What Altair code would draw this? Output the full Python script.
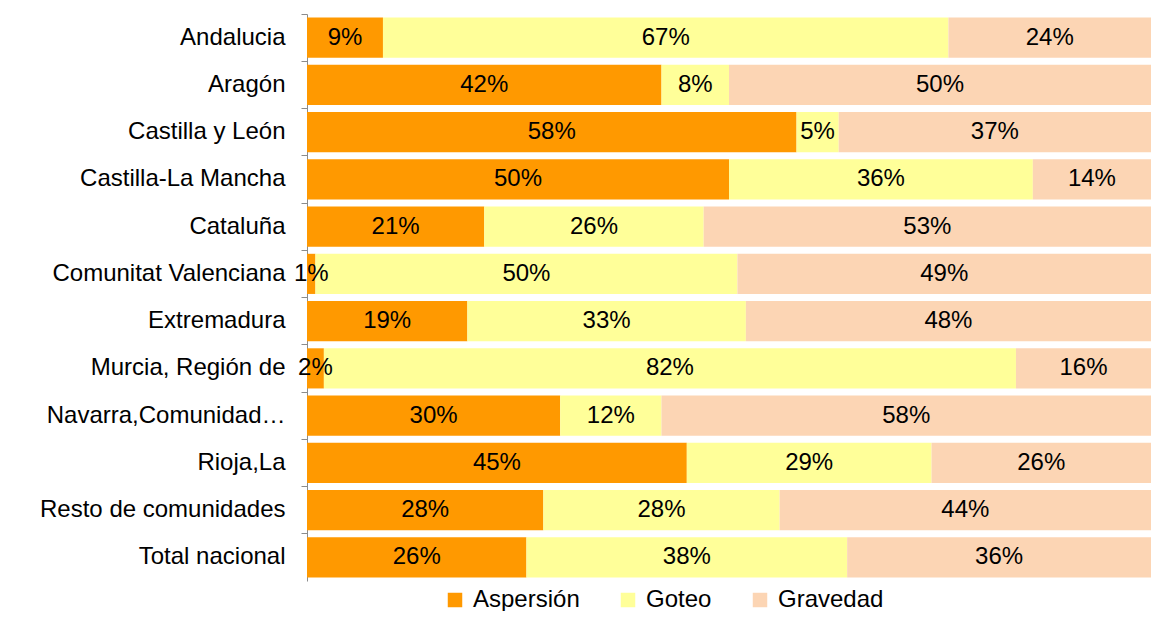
import altair as alt
import pandas as pd

regiones = [
    "Andalucia", "Aragón", "Castilla y León", "Castilla-La Mancha", "Cataluña",
    "Comunitat Valenciana", "Extremadura", "Murcia, Región de", "Navarra,Comunidad…",
    "Rioja,La", "Resto de comunidades", "Total nacional",
]
aspersion = [9, 42, 58, 50, 21, 1, 19, 2, 30, 45, 28, 26]
goteo = [67, 8, 5, 36, 26, 50, 33, 82, 12, 29, 28, 38]
gravedad = [24, 50, 37, 14, 53, 49, 48, 16, 58, 26, 44, 36]

tipos = ["Aspersión", "Goteo", "Gravedad"]
colores = ["#FF9900", "#FFFF99", "#FCD5B4"]

rows = []
for i, r in enumerate(regiones):
    for j, (t, serie) in enumerate(zip(tipos, [aspersion, goteo, gravedad])):
        rows.append({"region": r, "tipo": t, "valor": serie[i], "orden": j})
df = pd.DataFrame(rows)

FONT = "Liberation Sans"

base = alt.Chart(df).transform_stack(
    stack="valor", groupby=["region"], as_=["x0", "x1"],
    sort=[alt.SortField("orden", order="ascending")],
).transform_calculate(
    mid="(datum.x0 + datum.x1) / 2",
    etiqueta="datum.valor + '%'",
)

yenc = alt.Y(
    "region:N", sort=regiones, title=None,
    scale=alt.Scale(paddingInner=0, paddingOuter=0),
    axis=alt.Axis(
        bandPosition=0, domainColor="#8c8c8c", tickColor="#8c8c8c", tickSize=6,
        labelFont=FONT, labelFontSize=24, labelColor="#000000", labelPadding=16,
        labelLimit=0, grid=False,
    ),
)

xscale = alt.Scale(domain=[0, 100], nice=False, zero=True)

bars = base.mark_bar(height=alt.RelativeBandSize(0.85)).encode(
    y=yenc,
    x=alt.X("x0:Q", scale=xscale, axis=None),
    x2="x1:Q",
    color=alt.Color(
        "tipo:N", scale=alt.Scale(domain=tipos, range=colores), title=None,
        legend=alt.Legend(
            orient="none", direction="horizontal", legendX=136, legendY=574,
            symbolType="square", symbolSize=210, symbolStrokeWidth=0,
            labelFont=FONT, labelFontSize=24, labelColor="#000000",
            columnPadding=36, labelOffset=6,
        ),
    ),
    order=alt.Order("orden:Q"),
)

texts = base.mark_text(font=FONT, fontSize=24, color="#000000", baseline="middle", align="center").encode(
    y=alt.Y("region:N", sort=regiones),
    x=alt.X("mid:Q", scale=xscale),
    text="etiqueta:N",
)

chart = alt.layer(bars, texts).properties(
    width=844, height=567,
    autosize=alt.AutoSizeParams(type="none"),
    padding={"left": 299, "top": 6, "right": 0, "bottom": 30},
).configure_view(stroke=None)

chart.save("out.html", embed_options={"renderer": "svg", "actions": False})
